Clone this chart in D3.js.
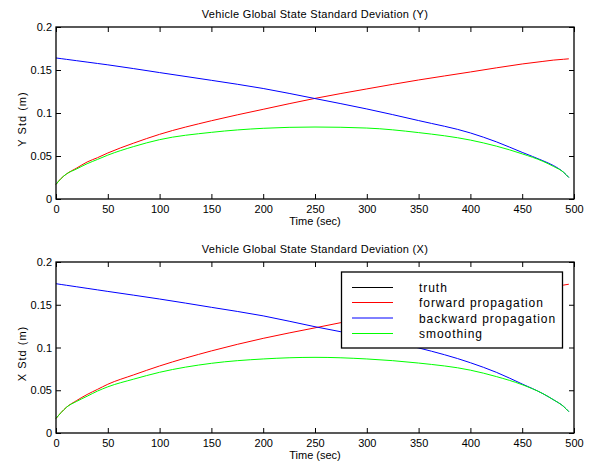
<!DOCTYPE html>
<html><head><meta charset="utf-8">
<script src="https://cdn.jsdelivr.net/npm/d3@7"></script>
<style>body{margin:0;background:#fff}svg{display:block}text{font-family:"Liberation Sans",Arial,sans-serif;fill:#000}</style>
</head><body><svg id="c" width="591" height="461"></svg>
<script>
const times = [0,5,10,20,30,40,50,75,100,150,200,250,300,350,400,425,450,470,480,490,495];
// Y plot
const yForward  = [0.017,0.024,0.029,0.036,0.043,0.048,0.0535,0.065,0.0752,0.091,0.1043,0.117,0.128,0.1384,0.1477,0.1525,0.157,0.160,0.1615,0.1625,0.163];
const yBackward = [0.164,0.1632,0.1624,0.1608,0.1592,0.1576,0.156,0.1516,0.147,0.138,0.1285,0.1168,0.1047,0.0912,0.0768,0.0665,0.0542,0.0445,0.039,0.031,0.025];
const ySmooth   = [0.017,0.024,0.029,0.035,0.041,0.046,0.051,0.061,0.0690,0.0775,0.0822,0.0837,0.0825,0.0772,0.0685,0.0615,0.0525,0.0438,0.038,0.031,0.025];
// X plot
const xForward  = [0.017,0.024,0.030,0.038,0.045,0.051,0.057,0.068,0.0784,0.096,0.1107,0.123,0.135,0.146,0.156,0.161,0.166,0.169,0.171,0.173,0.174];
const xBackward = [0.1746,0.1737,0.1728,0.171,0.1692,0.1674,0.1656,0.1612,0.1567,0.147,0.137,0.1243,0.1125,0.0995,0.0822,0.0710,0.0573,0.046,0.039,0.031,0.025];
const xSmooth   = [0.017,0.024,0.030,0.037,0.043,0.049,0.054,0.063,0.0710,0.0815,0.0866,0.0885,0.0866,0.0818,0.0735,0.0660,0.0565,0.046,0.039,0.031,0.025];
const truth = [];
const xTicks = [0,50,100,150,200,250,300,350,400,450,500];
const yTicks = [0,0.05,0.1,0.15,0.2];
const legendLabels = ["truth","forward propagation","backward propagation","smoothing"];
const colors = ["#000000","#ff0000","#0000ff","#00ff00"];

const svg = d3.select("#c");
function panel(top, bottom, title, ylabel, series, legend){
  const x = d3.scaleLinear().domain([0,500]).range([56,574]);
  const y = d3.scaleLinear().domain([0,0.2]).range([bottom,top]);
  const g = svg.append("g");
  const fmt = d => d===0?"0":String(d);
  g.append("g").attr("transform",`translate(0,${bottom})`)
    .call(d3.axisBottom(x).tickValues(xTicks).tickSizeInner(-5).tickSizeOuter(0).tickPadding(6).tickFormat(fmt))
    .call(a=>{a.select(".domain").remove();a.selectAll("text").attr("font-size",11).attr("font-family","Liberation Sans, Arial");});
  g.append("g").attr("transform",`translate(0,${top})`)
    .call(d3.axisTop(x).tickValues(xTicks).tickSizeInner(-5).tickSizeOuter(0).tickFormat(""))
    .call(a=>a.select(".domain").remove());
  g.append("g").attr("transform",`translate(56,0)`)
    .call(d3.axisLeft(y).tickValues(yTicks).tickSizeInner(-5).tickSizeOuter(0).tickPadding(4).tickFormat(fmt))
    .call(a=>{a.select(".domain").remove();a.selectAll("text").attr("font-size",11).attr("font-family","Liberation Sans, Arial");});
  g.append("g").attr("transform",`translate(574,0)`)
    .call(d3.axisRight(y).tickValues(yTicks).tickSizeInner(-5).tickSizeOuter(0).tickFormat(""))
    .call(a=>a.select(".domain").remove());
  g.selectAll(".tick line").attr("stroke","#000");
  const line = d3.line().x((d,i)=>x(times[i])).y(d=>y(d)).curve(d3.curveMonotoneX);
  series.forEach((s,i)=>{
    if(!s.length) return;
    g.append("path").attr("d",line(s)).attr("fill","none").attr("stroke",colors[i]).attr("stroke-width",1);
  });
  g.append("rect").attr("x",56).attr("y",top).attr("width",518).attr("height",bottom-top)
    .attr("fill","none").attr("stroke","#000").attr("stroke-width",1.3);
  g.append("text").attr("x",315).attr("y",top-9).attr("text-anchor","middle").attr("font-size",11)
    .attr("letter-spacing",0.3).text(title);
  g.append("text").attr("x",315).attr("y",bottom+26).attr("text-anchor","middle").attr("font-size",11).text("Time (sec)");
  g.append("text").attr("transform",`translate(26,${(top+bottom)/2+6}) rotate(-90)`).attr("text-anchor","middle")
    .attr("font-size",11).attr("letter-spacing",1).text(ylabel);
  if(legend){
    const lg = g.append("g");
    lg.append("rect").attr("x",341.5).attr("y",272).attr("width",221).attr("height",76).attr("fill","#fff").attr("stroke","#000").attr("stroke-width",1.3);
    const rows=[287.5,302.5,318,333.5];
    legendLabels.forEach((l,i)=>{
      lg.append("line").attr("x1",352).attr("x2",393).attr("y1",rows[i]).attr("y2",rows[i]).attr("stroke",colors[i]).attr("stroke-width",1);
      lg.append("text").attr("x",419).attr("y",rows[i]+4.5).attr("font-size",12).attr("letter-spacing",0.95).text(l);
    });
  }
}
panel(27,199,"Vehicle Global State Standard Deviation (Y)","Y Std (m)",[truth,yForward,yBackward,ySmooth],false);
panel(262,433,"Vehicle Global State Standard Deviation (X)","X Std (m)",[truth,xForward,xBackward,xSmooth],true);
</script></body></html>
